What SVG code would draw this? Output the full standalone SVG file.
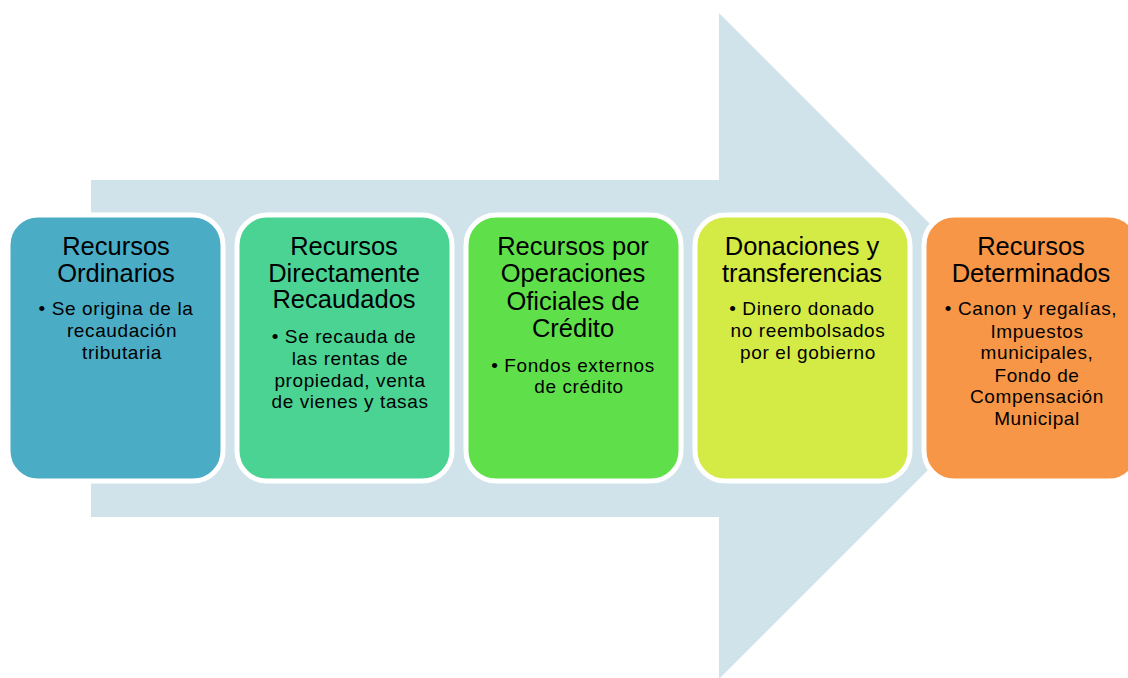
<svg xmlns="http://www.w3.org/2000/svg" width="1128" height="678" viewBox="0 0 1128 678">
<style>
.box{stroke:#ffffff;stroke-width:5}
.t{font-family:"Liberation Sans",Arial,sans-serif;font-size:25.5px;fill:#000;text-anchor:middle}
.b{font-family:"Liberation Sans",Arial,sans-serif;font-size:19px;letter-spacing:0.6px;fill:#000;text-anchor:middle}
</style>
<rect width="1128" height="678" fill="#ffffff"/>
<g id="arrow">
<polygon points="91,180 719,180 719,13 1052,346 719,679 719,517 91,517" fill="#D0E2EA"/>
</g>
<g id="connectors"></g>
<g id="node1">
<rect class="box" x="8" y="215" width="215" height="266" rx="30" fill="#4BACC6"/>
<text class="t" x="116" y="255">Recursos</text>
<text class="t" x="116" y="282">Ordinarios</text>
<text class="b" x="116" y="315">• Se origina de la</text>
<text class="b" x="122" y="337">recaudación</text>
<text class="b" x="122" y="359">tributaria</text>
</g>
<g id="node2">
<rect class="box" x="237" y="215" width="215" height="266" rx="30" fill="#4BD393"/>
<text class="t" x="344" y="255">Recursos</text>
<text class="t" x="344" y="282">Directamente</text>
<text class="t" x="344" y="308">Recaudados</text>
<text class="b" x="344" y="343">• Se recauda de</text>
<text class="b" x="350" y="365">las rentas de</text>
<text class="b" x="350" y="387">propiedad, venta</text>
<text class="b" x="350" y="408">de vienes y tasas</text>
</g>
<g id="node3">
<rect class="box" x="466" y="215" width="215" height="266" rx="30" fill="#5FE04A"/>
<text class="t" x="573" y="255">Recursos por</text>
<text class="t" x="573" y="282">Operaciones</text>
<text class="t" x="573" y="310">Oficiales de</text>
<text class="t" x="573" y="337">Crédito</text>
<text class="b" x="573" y="372">• Fondos externos</text>
<text class="b" x="579" y="393">de crédito</text>
</g>
<g id="node4">
<rect class="box" x="695" y="215" width="215" height="266" rx="30" fill="#D5EB45"/>
<text class="t" x="802" y="255">Donaciones y</text>
<text class="t" x="802" y="282">transferencias</text>
<text class="b" x="802" y="315">• Dinero donado</text>
<text class="b" x="808" y="337">no reembolsados</text>
<text class="b" x="808" y="359">por el gobierno</text>
</g>
<g id="node5">
<rect class="box" x="924" y="215" width="215" height="266" rx="30" fill="#F79646"/>
<text class="t" x="1031" y="255">Recursos</text>
<text class="t" x="1031" y="282">Determinados</text>
<text class="b" x="1031" y="315">• Canon y regalías,</text>
<text class="b" x="1037" y="338">Impuestos</text>
<text class="b" x="1037" y="359">municipales,</text>
<text class="b" x="1037" y="382">Fondo de</text>
<text class="b" x="1037" y="403">Compensación</text>
<text class="b" x="1037" y="425">Municipal</text>
</g>
</svg>
